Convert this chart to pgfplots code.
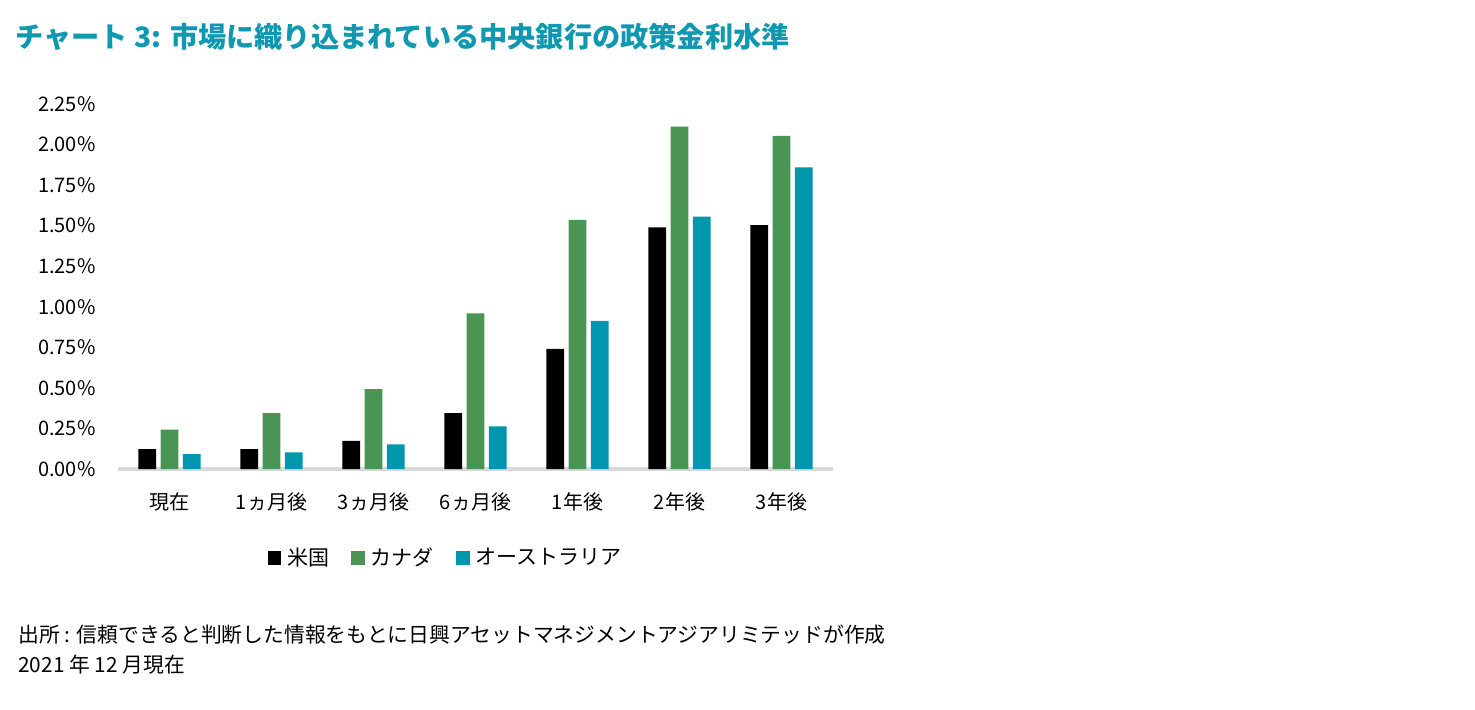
\documentclass[border=0pt]{standalone}
\usepackage{fontspec}
\setmainfont{Noto Sans CJK JP}
\usepackage{pgfplots}
\pgfplotsset{compat=1.18}
\definecolor{usblack}{HTML}{000000}
\definecolor{cagreen}{HTML}{4A9454}
\definecolor{auteal}{HTML}{0096AE}
\definecolor{titleteal}{HTML}{1098B0}
\definecolor{axisgray}{HTML}{D9D9D9}

\pgfplotsset{
  sq/.style={legend image code/.code={\fill[##1] (0pt,-3.4pt) rectangle (6.8pt,3.4pt);}},
}

\begin{document}
\begin{tikzpicture}
\path[use as bounding box] (0pt,0pt) rectangle (737.5pt,-355pt);
\node[anchor=west, inner sep=0pt, text=titleteal,
      font=\fontsize{14.1}{16}\selectfont\bfseries] at (7.5pt,-18.5pt)
  {チャート 3: 市場に織り込まれている中央銀行の政策金利水準};

\begin{axis}[
  at={(59.25pt,-234.5pt)}, anchor=south west,
  scale only axis, width=357pt, height=182.5pt,
  xmin=-0.5, xmax=6.5, ymin=0, ymax=2.25,
  axis x line*=bottom, axis y line*=left,
  x axis line style={draw=axisgray, line width=1.6pt, -},
  y axis line style={draw=none},
  major tick length=0pt,
  xtick style={draw=none}, ytick style={draw=none},
  xtick={0,1,2,3,4,5,6},
  xticklabels={現在,1ヵ月後,3ヵ月後,6ヵ月後,1年後,2年後,3年後},
  ytick={0,0.25,0.5,0.75,1,1.25,1.5,1.75,2,2.25},
  yticklabels={0.00\%,0.25\%,0.50\%,0.75\%,1.00\%,1.25\%,1.50\%,1.75\%,2.00\%,2.25\%},
  tick label style={font=\fontsize{10}{12}\selectfont},
  yticklabel style={anchor=east, xshift=-8pt},
  xticklabel style={yshift=-8.5pt},
  clip=false,
  legend columns=3,
  legend style={at={(axis description cs:0.2,-0.244)}, anchor=west,
    draw=none, fill=none, font=\fontsize{10.5}{12}\selectfont,
    /tikz/every even column/.append style={column sep=9pt},
    /tikz/every odd column/.append style={column sep=1pt}},
]
\addplot[ybar, bar width=0.174, bar shift=-0.219, fill=usblack, draw=none, sq] coordinates {
  (0,0.123) (1,0.123) (2,0.173) (3,0.345) (4,0.74) (5,1.49) (6,1.504)
};
\addplot[ybar, bar width=0.174, bar shift=0, fill=cagreen, draw=none, sq] coordinates {
  (0,0.242) (1,0.345) (2,0.493) (3,0.96) (4,1.535) (5,2.11) (6,2.053)
};
\addplot[ybar, bar width=0.174, bar shift=0.219, fill=auteal, draw=none, sq] coordinates {
  (0,0.092) (1,0.102) (2,0.152) (3,0.263) (4,0.913) (5,1.556) (6,1.86)
};
\legend{米国,カナダ,オーストラリア}
\end{axis}

\node[anchor=west, inner sep=0pt, font=\fontsize{10.4}{12}\selectfont] at (9pt,-317.5pt)
  {出所 : 信頼できると判断した情報をもとに日興アセットマネジメントアジアリミテッドが作成};
\node[anchor=west, inner sep=0pt, font=\fontsize{10.4}{12}\selectfont] at (9pt,-332.5pt)
  {2021 年 12 月現在};
\end{tikzpicture}
\end{document}
